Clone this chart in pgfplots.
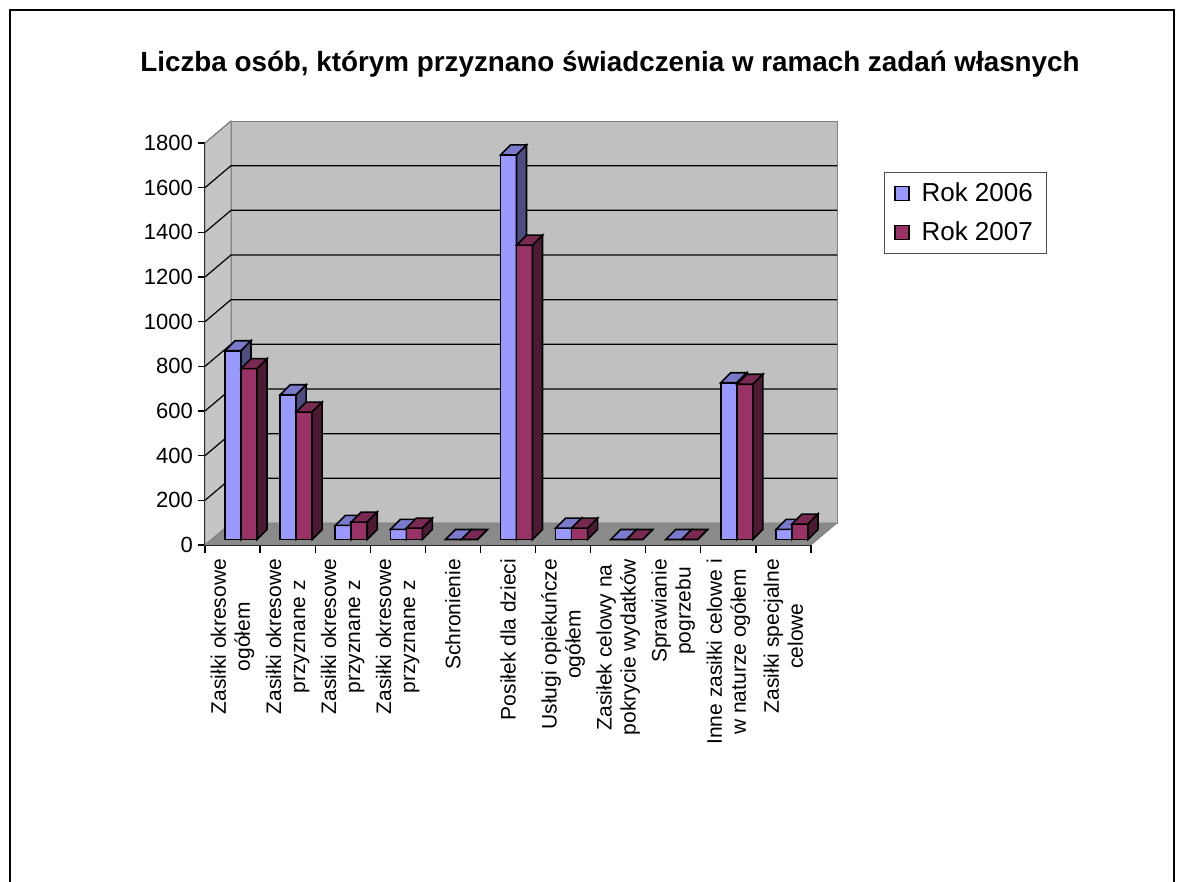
\documentclass[border=0pt]{standalone}
\usepackage{pgfplots}
\pgfplotsset{compat=1.18}
\usepackage{fontspec}
\setmainfont{Liberation Sans}
\definecolor{cA}{HTML}{9999FF}
\definecolor{topA}{HTML}{7A7ACC}
\definecolor{sideA}{HTML}{4D4D80}
\definecolor{cB}{HTML}{993366}
\definecolor{topB}{HTML}{7A2952}
\definecolor{sideB}{HTML}{4D1A33}
\definecolor{wall}{HTML}{C0C0C0}
\definecolor{floorc}{HTML}{8A8A8A}
\definecolor{edge}{HTML}{808080}
% a 3D column: front face, top face and side face; #4 = horizontal offset of the column in its category
\newcommand\cubemark[4]{%
  \pgftransformshift{\pgfpoint{#4}{2.75pt}}%
  \pgfsetlinewidth{0.8pt}%
  \pgfsetstrokecolor{black}%
  \pgfsetfillcolor{#1}%
  \pgfpathrectanglecorners{\pgfpoint{-4pt}{0pt}}{\pgfpoint{4pt}{-\rawy*0.111667pt}}%
  \pgfusepath{fill,stroke}%
  \pgfsetfillcolor{#2}%
  \pgfpathmoveto{\pgfpoint{-4pt}{0pt}}\pgfpathlineto{\pgfpoint{4pt}{0pt}}%
  \pgfpathlineto{\pgfpoint{9pt}{5pt}}\pgfpathlineto{\pgfpoint{1pt}{5pt}}\pgfpathclose
  \pgfusepath{fill,stroke}%
  \pgfsetfillcolor{#3}%
  \pgfpathmoveto{\pgfpoint{4pt}{0pt}}\pgfpathlineto{\pgfpoint{9pt}{5pt}}%
  \pgfpathlineto{\pgfpoint{9pt}{5pt-\rawy*0.111667pt}}\pgfpathlineto{\pgfpoint{4pt}{-\rawy*0.111667pt}}\pgfpathclose
  \pgfusepath{fill,stroke}}
\pgfdeclareplotmark{cubeA}{\cubemark{cA}{topA}{sideA}{0.25pt}}
\pgfdeclareplotmark{cubeB}{\cubemark{cB}{topB}{sideB}{8.25pt}}
\newcommand\gl[1]{\draw[black, line width=0.6pt] (axis cs:-0.5,#1) -- ++(13pt,11pt) -- ([shift={(13pt,11pt)}]axis cs:10.5,#1);}
\pgfplotstableread{
x a b
0 845 765
1 648 570
2 63 78
3 45 51
4 0 0
5 1722 1318
6 51 51
7 0 0
8 0 0
9 702 695
10 45 69
}\data
\begin{document}
\begin{tikzpicture}[x=1pt,y=1pt]
\useasboundingbox (0,0) rectangle (592,441);
\draw[line width=1pt] (5,-5) -- (5,436) -- (587,436) -- (587,-5);
\node[font=\bfseries\fontsize{13.9}{16}\selectfont] at (305,409) {Liczba osób, którym przyznano świadczenia w ramach zadań własnych};
\begin{axis}[
  at={(102.5pt,168.5pt)}, anchor=south west,
  scale only axis, width=303pt, height=201pt,
  xmin=-0.5, xmax=10.5, ymin=0, ymax=1800,
  clip=false,
  axis x line*=bottom, axis y line*=left,
  axis line style={black, line width=0.7pt},
  ytick={0,200,...,1800},
  xtick={0,...,10},
  minor xtick={-0.5,0.5,...,10.5},
  tick align=outside, major tick length=3.5pt, minor tick length=4pt,
  major x tick style={draw=none},
  tick style={black, line width=0.6pt},
  /pgf/number format/assume math mode=true,
  /pgf/number format/1000 sep={},
  yticklabel style={font=\fontsize{11}{13}\selectfont, xshift=1pt},
  xticklabels={{Zasiłki okresowe\\ogółem},{Zasiłki okresowe\\przyznane z},{Zasiłki okresowe\\przyznane z},{Zasiłki okresowe\\przyznane z},{Schronienie},{Posiłek dla dzieci},{Usługi opiekuńcze\\ogółem},{Zasiłek celowy na\\pokrycie wydatków},{Sprawianie\\pogrzebu},{Inne zasiłki celowe i\\w naturze ogółem},{Zasiłki specjalne\\celowe}},
  xticklabel style={rotate=90, anchor=east, align=center, font=\fontsize{10.5}{12}\selectfont},
  legend style={at={(1.1205,0.9275)}, anchor=north west, draw=black!70, fill=white,
    font=\fontsize{13}{15}\selectfont, row sep=4.5pt, inner xsep=5pt, inner ysep=3pt},
]
% walls and floor
\fill[wall, draw=edge] ([shift={(13pt,11pt)}]axis cs:-0.5,0) rectangle ([shift={(13pt,11pt)}]axis cs:10.5,1800);
\fill[wall!92!white, draw=edge] (axis cs:-0.5,0) -- ++(13pt,11pt) -- ([shift={(13pt,11pt)}]axis cs:-0.5,1800) -- (axis cs:-0.5,1800) -- cycle;
\fill[floorc, draw=edge] (axis cs:-0.5,0) -- (axis cs:10.5,0) -- ++(13pt,11pt) -- ([shift={(13pt,11pt)}]axis cs:-0.5,0) -- cycle;
\gl{200}\gl{400}\gl{600}\gl{800}\gl{1000}\gl{1200}\gl{1400}\gl{1600}
\draw[edge, line width=0.6pt] (axis cs:-0.5,1800) -- ++(13pt,11pt);
% series 2006
\addplot[only marks, mark=cubeA, visualization depends on={rawy \as \rawy},
  legend image code/.code={\draw[fill=cA, draw=black, line width=0.7pt] (0pt,-3.5pt) rectangle (7pt,3.5pt); \path (11pt,0pt);}] table[x=x, y=a] {\data};
\addlegendentry{Rok 2006}
% series 2007
\addplot[only marks, mark=cubeB, visualization depends on={rawy \as \rawy},
  legend image code/.code={\draw[fill=cB, draw=black, line width=0.7pt] (0pt,-3.5pt) rectangle (7pt,3.5pt); \path (11pt,0pt);}] table[x=x, y=b] {\data};
\addlegendentry{Rok 2007}
\end{axis}
\end{tikzpicture}
\end{document}
